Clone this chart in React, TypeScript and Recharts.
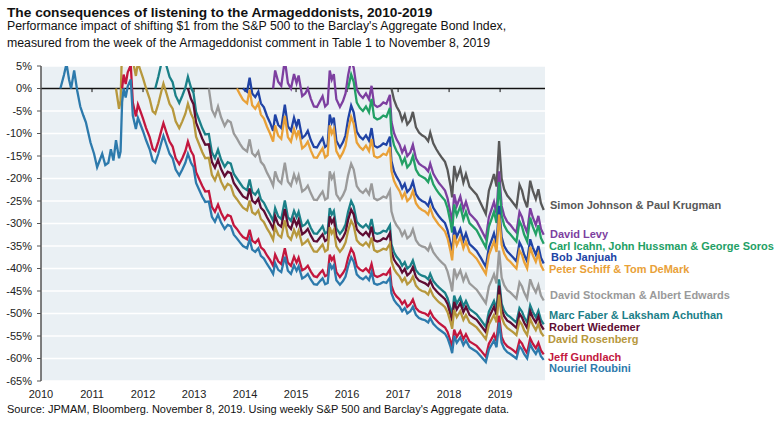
import React from "react";
import { LineChart, Line, XAxis, YAxis, CartesianGrid, ReferenceLine } from "recharts";

// weekly S&P 500 vs Barclay's Aggregate, sampled dates (decimal years)
const weeks = [
  2010.38, 2010.45, 2010.5, 2010.55, 2010.59, 2010.65, 2010.71, 2010.77, 2010.83, 2010.88,
  2010.92, 2010.97, 2011.04, 2011.1, 2011.15, 2011.2, 2011.26, 2011.32, 2011.37, 2011.42,
  2011.47, 2011.53, 2011.56, 2011.59, 2011.62, 2011.66, 2011.7, 2011.76, 2011.8, 2011.86,
  2011.9, 2011.95, 2012.0, 2012.06, 2012.13, 2012.19, 2012.24, 2012.3, 2012.36, 2012.4,
  2012.46, 2012.52, 2012.58, 2012.64, 2012.71, 2012.77, 2012.83, 2012.88, 2012.94, 2012.99,
  2013.04, 2013.1, 2013.16, 2013.22, 2013.29, 2013.35, 2013.41, 2013.47, 2013.53, 2013.6,
  2013.66, 2013.72, 2013.78, 2013.84, 2013.9, 2013.96, 2014.04, 2014.09, 2014.14, 2014.2,
  2014.26, 2014.31, 2014.37, 2014.43, 2014.49, 2014.55, 2014.59, 2014.65, 2014.71, 2014.78,
  2014.84, 2014.9, 2014.96, 2015.01, 2015.05, 2015.12, 2015.18, 2015.23, 2015.29, 2015.35,
  2015.41, 2015.47, 2015.52, 2015.57, 2015.62, 2015.66, 2015.7, 2015.74, 2015.79, 2015.86,
  2015.92, 2015.97, 2016.02, 2016.08, 2016.13, 2016.19, 2016.25, 2016.31, 2016.37, 2016.43,
  2016.48, 2016.53, 2016.59, 2016.65, 2016.71, 2016.77, 2016.84, 2016.87, 2016.92, 2016.97,
  2017.03, 2017.08, 2017.13, 2017.18, 2017.24, 2017.29, 2017.35, 2017.41, 2017.47, 2017.53,
  2017.59, 2017.63, 2017.69, 2017.75, 2017.8, 2017.86, 2017.92, 2017.97, 2018.03, 2018.06,
  2018.1, 2018.15, 2018.22, 2018.28, 2018.33, 2018.4, 2018.47, 2018.54, 2018.62, 2018.72,
  2018.78, 2018.83, 2018.88, 2018.93, 2018.98, 2019.03, 2019.08, 2019.14, 2019.2, 2019.26,
  2019.32, 2019.38, 2019.43, 2019.47, 2019.53, 2019.59, 2019.64, 2019.7, 2019.75, 2019.8,
  2019.855,
];

// each series runs up to the last week; it starts where its values start
const nourielRoubini = [
  0, 3, 5.5, 2, 0, 4, -0.5, -4, -6, -7.5,
  -9.5, -12, -14.5, -17.5, -16, -14.5, -17, -16.5, -13.5, -16,
  -11.5, -15.5, -14, -3, 0, -2, 0.5, 2, -6, -9,
  -6.5, -8, -9.5, -11.5, -13.5, -16, -16.5, -14.5, -12, -10.5,
  -12.5, -14.5, -15.5, -18, -19.3, -18, -16.5, -14.5, -16.5, -17.5,
  -21, -22.5, -24, -25.2, -25.1, -28.5, -29.6, -28, -29.8, -31.2,
  -30.3, -30.6, -32.5, -33.3, -34.2, -35, -35.5, -33.5, -35.8, -36.3,
  -35.5, -37.2, -37.8, -39, -40, -41.2, -38.8, -40.3, -40.8, -37.4,
  -40.5, -41.2, -39.3, -40.5, -39.5, -42.2, -41.8, -41.2, -42.5, -43.5,
  -43.6, -42.8, -42.2, -43.5, -43.2, -38.8, -40, -39.3, -42.6, -43.6,
  -42.8, -41.8, -39.5, -37.5, -38.5, -41.3, -42, -42.4, -41.8, -42.6,
  -40.8, -43.3, -43.6, -43.4, -43, -43.2, -42, -45.5, -47, -47.8,
  -48.5, -49.5, -48.8, -50, -49.5, -48.5, -50.3, -51, -51.3, -51.5,
  -52, -51, -52.3, -53, -53.5, -54, -54.5, -55.5, -57.5, -58.8,
  -55, -56.5, -55.3, -57, -56, -57.5, -58, -58.5, -59.5, -60.8,
  -58, -57, -56, -57.5, -52, -56.5, -57.8, -58.6, -59, -59.5,
  -60, -57.3, -58, -59, -60, -56.8, -58, -59, -57.8, -59.5,
  -60.3,
];

const jeffGundlach = [
  0, 3.1, 1.0, 3.6, 5.2, -3.1, -6.2,
  -3.6, -5.1, -6.7, -8.8, -10.8, -13.4, -13.9, -11.8, -9.3, -7.7,
  -9.8, -11.8, -12.9, -15.5, -16.8, -15.5, -13.9, -11.8, -13.9, -14.9,
  -18.6, -20.1, -21.6, -22.9, -22.8, -26.3, -27.4, -25.8, -27.6, -29.1,
  -28.1, -28.4, -30.4, -31.2, -32.2, -33.0, -33.5, -31.4, -33.8, -34.3,
  -33.5, -35.3, -35.9, -37.1, -38.1, -39.4, -36.9, -38.4, -39.0, -35.5,
  -38.7, -39.4, -37.4, -38.7, -37.6, -40.4, -40.0, -39.4, -40.7, -41.7,
  -41.9, -41.0, -40.4, -41.7, -41.4, -36.9, -38.1, -37.4, -40.8, -41.9,
  -41.0, -40.0, -37.6, -35.6, -36.6, -39.5, -40.2, -40.6, -40.0, -40.8,
  -39.0, -41.5, -41.9, -41.6, -41.2, -41.4, -40.2, -43.8, -45.4, -46.2,
  -46.9, -47.9, -47.2, -48.5, -47.9, -46.9, -48.8, -49.5, -49.8, -50.0,
  -50.5, -49.5, -50.8, -51.5, -52.1, -52.6, -53.1, -54.1, -56.2, -57.5,
  -53.6, -55.2, -53.9, -55.7, -54.6, -56.2, -56.7, -57.2, -58.2, -59.6,
  -56.7, -55.7, -54.6, -56.2, -50.5, -55.2, -56.5, -57.3, -57.7, -58.2,
  -58.8, -56.0, -56.7, -57.7, -58.8, -55.5, -56.7, -57.7, -56.5, -58.2, -59.1,
];

const davidRosenberg = [
  0, -4.5, -2.8, 9.6, 13, 10.7, 13.6, 15.3, 6.2, 2.8,
  5.7, 4.0, 2.3, 0.0, -2.3, -5.1, -5.6, -3.4, -0.6, 1.1,
  -1.1, -3.4, -4.5, -7.3, -8.8, -7.3, -5.6, -3.4, -5.6, -6.8,
  -10.7, -12.4, -14.1, -15.5, -15.4, -19.2, -20.4, -18.6, -20.7, -22.3,
  -21.2, -21.6, -23.7, -24.6, -25.6, -26.5, -27.1, -24.9, -27.5, -28.0,
  -27.1, -29.0, -29.7, -31.1, -32.2, -33.6, -30.8, -32.5, -33.1, -29.3,
  -32.8, -33.6, -31.4, -32.8, -31.6, -34.7, -34.2, -33.6, -35.0, -36.2,
  -36.3, -35.4, -34.7, -36.2, -35.8, -30.8, -32.2, -31.4, -35.1, -36.3,
  -35.4, -34.2, -31.6, -29.4, -30.5, -33.7, -34.5, -34.9, -34.2, -35.1,
  -33.1, -35.9, -36.3, -36.0, -35.6, -35.8, -34.5, -38.4, -40.1, -41.0,
  -41.8, -42.9, -42.1, -43.5, -42.9, -41.8, -43.8, -44.6, -45.0, -45.2,
  -45.8, -44.6, -46.1, -46.9, -47.5, -48.0, -48.6, -49.7, -52.0, -53.4,
  -49.2, -50.8, -49.5, -51.4, -50.3, -52.0, -52.5, -53.1, -54.2, -55.7,
  -52.5, -51.4, -50.3, -52.0, -45.8, -50.8, -52.3, -53.2, -53.7, -54.2,
  -54.8, -51.7, -52.5, -53.7, -54.8, -51.2, -52.5, -53.7, -52.3, -54.2, -55.1,
];

const marcFaber = [
  0, 2.6, 5.6, 7.4,
  5.0, 2.6, 1.4, -1.6, -3.2, -1.6, 0.2, 2.6, 0.2, -1.0,
  -5.2, -7.0, -8.8, -10.2, -10.1, -14.2, -15.5, -13.6, -15.8, -17.4,
  -16.4, -16.7, -19.0, -20.0, -21.0, -22.0, -22.6, -20.2, -23.0, -23.6,
  -22.6, -24.6, -25.4, -26.8, -28.0, -29.4, -26.6, -28.4, -29.0, -24.9,
  -28.6, -29.4, -27.2, -28.6, -27.4, -30.6, -30.2, -29.4, -31.0, -32.2,
  -32.3, -31.4, -30.6, -32.2, -31.8, -26.6, -28.0, -27.2, -31.1, -32.3,
  -31.4, -30.2, -27.4, -25.0, -26.2, -29.6, -30.4, -30.9, -30.2, -31.1,
  -29.0, -32.0, -32.3, -32.1, -31.6, -31.8, -30.4, -34.6, -36.4, -37.4,
  -38.2, -39.4, -38.6, -40.0, -39.4, -38.2, -40.4, -41.2, -41.6, -41.8,
  -42.4, -41.2, -42.8, -43.6, -44.2, -44.8, -45.4, -46.6, -49.0, -50.6,
  -46.0, -47.8, -46.4, -48.4, -47.2, -49.0, -49.6, -50.2, -51.4, -53.0,
  -49.6, -48.4, -47.2, -49.0, -42.4, -47.8, -49.4, -50.3, -50.8, -51.4,
  -52.0, -48.8, -49.6, -50.8, -52.0, -48.2, -49.6, -50.8, -49.4, -51.4, -52.4,
];

const robertWiedemer = [
  0, -2.3, -3.5,
  -7.6, -9.3, -11.1, -12.5, -12.4, -16.3, -17.6, -15.8, -17.9, -19.5,
  -18.5, -18.8, -21.0, -22.0, -23.0, -24.0, -24.5, -22.2, -24.9, -25.5,
  -24.5, -26.5, -27.2, -28.6, -29.8, -31.2, -28.4, -30.2, -30.7, -26.8,
  -30.4, -31.2, -29.0, -30.4, -29.2, -32.4, -31.9, -31.2, -32.7, -33.9,
  -34.0, -33.1, -32.4, -33.9, -33.5, -28.4, -29.8, -29.0, -32.8, -34.0,
  -33.1, -31.9, -29.2, -26.9, -28.0, -31.3, -32.1, -32.6, -31.9, -32.8,
  -30.7, -33.7, -34.0, -33.8, -33.3, -33.5, -32.1, -36.2, -38.0, -38.9,
  -39.7, -40.9, -40.1, -41.5, -40.9, -39.7, -41.9, -42.7, -43.0, -43.3,
  -43.8, -42.7, -44.2, -45.0, -45.6, -46.2, -46.8, -47.9, -50.3, -51.8,
  -47.4, -49.1, -47.7, -49.7, -48.5, -50.3, -50.9, -51.4, -52.6, -54.1,
  -50.9, -49.7, -48.5, -50.3, -43.8, -49.1, -50.6, -51.6, -52.0, -52.6,
  -53.2, -50.0, -50.9, -52.0, -53.2, -49.5, -50.9, -52.0, -50.6, -52.6, -53.6,
];

const davidStockman = [
  0, -4.7, -6.1, -4.0, -6.4, -8.3,
  -7.1, -7.5, -10.0, -11.1, -12.3, -13.3, -14.0, -11.3, -14.4, -15.1,
  -14.0, -16.3, -17.1, -18.7, -20.0, -21.6, -18.4, -20.4, -21.1, -16.5,
  -20.7, -21.6, -19.1, -20.7, -19.3, -22.9, -22.4, -21.6, -23.3, -24.7,
  -24.8, -23.7, -22.9, -24.7, -24.3, -18.4, -20.0, -19.1, -23.5, -24.8,
  -23.7, -22.4, -19.3, -16.7, -18.0, -21.7, -22.7, -23.2, -22.4, -23.5,
  -21.1, -24.4, -24.8, -24.5, -24.0, -24.3, -22.7, -27.3, -29.3, -30.4,
  -31.3, -32.7, -31.7, -33.3, -32.7, -31.3, -33.7, -34.7, -35.1, -35.3,
  -36.0, -34.7, -36.4, -37.3, -38.0, -38.7, -39.3, -40.7, -43.3, -45.1,
  -40.0, -42.0, -40.4, -42.7, -41.3, -43.3, -44.0, -44.7, -46.0, -47.7,
  -44.0, -42.7, -41.3, -43.3, -36.0, -42.0, -43.7, -44.8, -45.3, -46.0,
  -46.7, -43.1, -44.0, -45.3, -46.7, -42.4, -44.0, -45.3, -43.7, -46.0, -47.1,
];

const peterSchiff = [
  0, -1.3, -2.5, -3.3, -0.3, -3.7, -4.5,
  -3.3, -5.8, -6.7, -8.5, -10.0, -11.8, -8.2, -10.5, -11.2, -6.1,
  -10.8, -11.8, -9.0, -10.8, -9.3, -13.3, -12.7, -11.8, -13.8, -15.3,
  -15.4, -14.2, -13.3, -15.3, -14.8, -8.2, -10.0, -9.0, -13.9, -15.4,
  -14.2, -12.7, -9.3, -6.3, -7.8, -12.0, -13.0, -13.6, -12.7, -13.9,
  -11.2, -15.0, -15.4, -15.1, -14.5, -14.8, -13.0, -18.3, -20.5, -21.7,
  -22.8, -24.3, -23.2, -25.0, -24.3, -22.8, -25.5, -26.5, -27.0, -27.3,
  -28.0, -26.5, -28.5, -29.5, -30.3, -31.0, -31.8, -33.3, -36.3, -38.2,
  -32.5, -34.8, -33.0, -35.5, -34.0, -36.3, -37.0, -37.8, -39.3, -41.2,
  -37.0, -35.5, -34.0, -36.3, -28.0, -34.8, -36.7, -37.9, -38.5, -39.3,
  -40.0, -36.0, -37.0, -38.5, -40.0, -35.2, -37.0, -38.5, -36.7, -39.3, -40.5,
];

const bobJanjuah = [
  0, -0.7, 2.4, -1.1, -1.9,
  -0.7, -3.3, -4.2, -6.1, -7.6, -9.4, -5.8, -8.1, -8.8, -3.6,
  -8.4, -9.4, -6.5, -8.4, -6.8, -11.0, -10.4, -9.4, -11.5, -13.0,
  -13.1, -11.9, -11.0, -13.0, -12.5, -5.8, -7.6, -6.5, -11.6, -13.1,
  -11.9, -10.4, -6.8, -3.8, -5.3, -9.6, -10.7, -11.3, -10.4, -11.6,
  -8.8, -12.7, -13.1, -12.8, -12.2, -12.5, -10.7, -16.1, -18.4, -19.6,
  -20.7, -22.2, -21.2, -23.0, -22.2, -20.7, -23.5, -24.5, -25.0, -25.3,
  -26.1, -24.5, -26.5, -27.6, -28.4, -29.2, -29.9, -31.5, -34.6, -36.6,
  -30.7, -33.0, -31.2, -33.8, -32.2, -34.6, -35.3, -36.1, -37.6, -39.6,
  -35.3, -33.8, -32.2, -34.6, -26.1, -33.0, -35.0, -36.2, -36.9, -37.6,
  -38.4, -34.2, -35.3, -36.9, -38.4, -33.5, -35.3, -36.9, -35.0, -37.6, -38.9,
];

const davidLevy = [
  0, 4.0, 1.5, 0.6, 6.4,
  1.2, 0.0, 3.2, 1.2, 2.9, -1.7, -1.1, 0.0, -2.3, -4.0,
  -4.1, -2.8, -1.7, -4.0, -3.4, 4.0, 2.0, 3.2, -2.4, -4.1,
  -2.8, -1.1, 2.9, 6.3, 4.6, -0.2, -1.4, -2.1, -1.1, -2.4,
  0.6, -3.6, -4.1, -3.8, -3.1, -3.4, -1.4, -7.4, -9.9, -11.3,
  -12.5, -14.2, -13.0, -15.0, -14.2, -12.5, -15.5, -16.7, -17.2, -17.6,
  -18.4, -16.7, -18.9, -20.1, -21.0, -21.8, -22.7, -24.4, -27.8, -30.0,
  -23.5, -26.1, -24.0, -26.9, -25.2, -27.8, -28.6, -29.5, -31.2, -33.4,
  -28.6, -26.9, -25.2, -27.8, -18.4, -26.1, -28.3, -29.6, -30.3, -31.2,
  -32.0, -27.4, -28.6, -30.3, -32.0, -26.6, -28.6, -30.3, -28.3, -31.2, -32.5,
];

const carlIcahn = [
  0, 3.1, 1.5, -3.1, -4.3, -5.0, -4.0, -5.3,
  -2.3, -6.4, -6.9, -6.6, -6.0, -6.3, -4.3, -10.1, -12.6, -13.9,
  -15.0, -16.7, -15.5, -17.5, -16.7, -15.0, -18.0, -19.2, -19.6, -20.0,
  -20.8, -19.2, -21.3, -22.5, -23.3, -24.1, -24.9, -26.6, -29.9, -32.0,
  -25.8, -28.2, -26.2, -29.1, -27.4, -29.9, -30.7, -31.5, -33.2, -35.3,
  -30.7, -29.1, -27.4, -29.9, -20.8, -28.2, -30.4, -31.7, -32.4, -33.2,
  -34.0, -29.5, -30.7, -32.4, -34.0, -28.7, -30.7, -32.4, -30.4, -33.2, -34.5,
];

const simonJohnson = [
  0, -2.5, -4.0,
  -5.2, -7.1, -5.8, -8.0, -7.1, -5.2, -8.6, -9.8, -10.4, -10.8,
  -11.7, -9.8, -12.2, -13.5, -14.4, -15.4, -16.3, -18.1, -21.8, -24.2,
  -17.2, -20.0, -17.8, -20.9, -19.0, -21.8, -22.7, -23.6, -25.5, -27.9,
  -22.7, -20.9, -19.0, -21.8, -11.7, -20.0, -22.4, -23.8, -24.6, -25.5,
  -26.4, -21.4, -22.7, -24.6, -26.4, -20.5, -22.7, -24.6, -22.4, -25.5, -27.0,
];

const series = [
  { name: "Simon Johnson & Paul Krugman", values: simonJohnson },
  { name: "David Levy", values: davidLevy },
  { name: "Carl Icahn, John Hussman & George Soros", values: carlIcahn },
  { name: "Bob Janjuah", values: bobJanjuah },
  { name: "Peter Schiff & Tom DeMark", values: peterSchiff },
  { name: "David Stockman & Albert Edwards", values: davidStockman },
  { name: "Marc Faber & Laksham Achuthan", values: marcFaber },
  { name: "Robert Wiedemer", values: robertWiedemer },
  { name: "David Rosenberg", values: davidRosenberg },
  { name: "Jeff Gundlach", values: jeffGundlach },
  { name: "Nouriel Roubini", values: nourielRoubini },
];

const yTicks = [5, 0, -5, -10, -15, -20, -25, -30, -35, -40, -45, -50, -55, -60, -65];
const xTicks = [2010, 2011, 2012, 2013, 2014, 2015, 2016, 2017, 2018, 2019];

// styling: colour and label position for each name
const look: Record<string, { color: string; labelY: number; labelX: number }> = {
  "Simon Johnson & Paul Krugman": { color: "#585858", labelY: 205, labelX: 550 },
  "David Levy": { color: "#7D3FA0", labelY: 234, labelX: 550 },
  "Carl Icahn, John Hussman & George Soros": { color: "#23A065", labelY: 245.5, labelX: 549 },
  "Bob Janjuah": { color: "#2043A5", labelY: 257, labelX: 551 },
  "Peter Schiff & Tom DeMark": { color: "#E9A138", labelY: 269, labelX: 549 },
  "David Stockman & Albert Edwards": { color: "#9A9A9A", labelY: 295, labelX: 550 },
  "Marc Faber & Laksham Achuthan": { color: "#1B8088", labelY: 315, labelX: 549 },
  "Robert Wiedemer": { color: "#5F0D33", labelY: 327, labelX: 549 },
  "David Rosenberg": { color: "#B7983D", labelY: 339, labelX: 548 },
  "Jeff Gundlach": { color: "#C3173E", labelY: 357, labelX: 548 },
  "Nouriel Roubini": { color: "#2D7AAC", labelY: 368, labelX: 549 },
};

const FONT = "'Liberation Sans', Arial, Helvetica, sans-serif";

const toPoints = (values: number[]) => {
  const offset = weeks.length - values.length;
  return values.map((v, i) => ({ t: weeks[offset + i], v }));
};

export default function App() {
  return (
    <div style={{ position: "absolute", left: 0, top: 0, width: 783, height: 439, background: "#fff", fontFamily: FONT, color: "#111" }}>
      <div style={{ position: "absolute", left: 7, top: 4, fontSize: 13.7, lineHeight: "17px", fontWeight: "bold", whiteSpace: "nowrap" }}>
        The consequences of listening to the Armageddonists, 2010-2019
      </div>
      <div style={{ position: "absolute", left: 7, top: 18, fontSize: 12.3, lineHeight: "16.5px", whiteSpace: "nowrap" }}>
        Performance impact of shifting $1 from the S&amp;P 500 to the Barclay's Aggregate Bond Index,
        <br />
        measured from the week of the Armageddonist comment in Table 1 to November 8, 2019
      </div>

      <LineChart width={783} height={439} margin={{ top: 66, right: 238, bottom: 0, left: 0 }}>
        <CartesianGrid vertical={false} stroke="#ffffff" strokeWidth={1.5} fill="#EAF0F4" />
        <XAxis
          type="number"
          dataKey="t"
          domain={[2010, 2019.88]}
          ticks={xTicks}
          allowDataOverflow
          height={58}
          axisLine={false}
          tickLine={false}
          tickSize={0}
          tickMargin={9}
          interval={0}
          tick={{ fontSize: 11, fill: "#222" }}
        />
        <YAxis
          type="number"
          domain={[-65, 5]}
          ticks={yTicks}
          allowDataOverflow
          width={41}
          interval={0}
          tickFormatter={(v) => `${v}%`}
          axisLine={{ stroke: "#555", strokeWidth: 1.5 }}
          tickLine={{ stroke: "#555" }}
          tickSize={4}
          tickMargin={5}
          tick={{ fontSize: 11, fill: "#222" }}
        />
        <ReferenceLine y={0} stroke="#111" strokeWidth={1.3} />
        {xTicks.slice(1).map((yr) => (
          <ReferenceLine
            key={yr}
            segment={[
              { x: yr, y: 0 },
              { x: yr, y: -0.8 },
            ]}
            stroke="#111"
          />
        ))}
        {series.map((s) => (
          <Line
            key={s.name}
            data={toPoints(s.values)}
            dataKey="v"
            type="linear"
            stroke={look[s.name].color}
            strokeWidth={2.3}
            dot={false}
            activeDot={false}
            isAnimationActive={false}
          />
        ))}
      </LineChart>

      {series.map((s) => (
        <div
          key={s.name}
          style={{
            position: "absolute",
            left: look[s.name].labelX,
            top: look[s.name].labelY - 7,
            fontSize: 11,
            lineHeight: "14px",
            fontWeight: "bold",
            color: look[s.name].color,
            whiteSpace: "nowrap",
          }}
        >
          {s.name}
        </div>
      ))}

      <div style={{ position: "absolute", left: 7, top: 403, fontSize: 11, lineHeight: "12px", whiteSpace: "nowrap" }}>
        Source: JPMAM, Bloomberg. November 8, 2019. Using weekly S&amp;P 500 and Barclay's Aggregate data.
      </div>
    </div>
  );
}
